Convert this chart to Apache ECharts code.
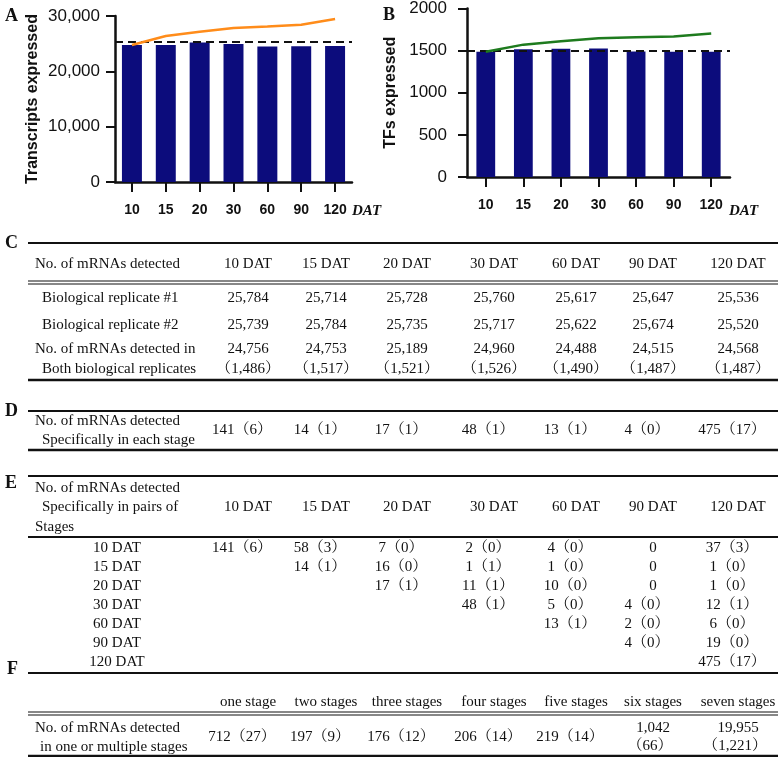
<!DOCTYPE html>
<html>
<head>
<meta charset="utf-8">
<script src="https://cdn.jsdelivr.net/npm/echarts@6/dist/echarts.min.js"></script>
<style>
html,body{margin:0;padding:0;background:#fff;}
#chart{width:778px;height:757px;}
</style>
</head>
<body>
<div id="chart"></div>
<script>
// ---------- DATA ----------
const stages = ['10', '15', '20', '30', '60', '90', '120'];
const transcriptsBoth = [24756, 24753, 25189, 24960, 24488, 24515, 24568];
const transcriptsCumulative = [24756, 26400, 27150, 27850, 28100, 28400, 29450];
const transcriptsRef = 25350;
const tfsBoth = [1486, 1517, 1521, 1526, 1490, 1487, 1487];
const tfsCumulative = [1486, 1571, 1610, 1648, 1660, 1668, 1703];
const tfsRef = 1500;
const yTicksA = [0, 10000, 20000, 30000];
const yTicksB = [0, 500, 1000, 1500, 2000];

const datHeaders = ['10 DAT', '15 DAT', '20 DAT', '30 DAT', '60 DAT', '90 DAT', '120 DAT'];
const replicate1 = ['25,784', '25,714', '25,728', '25,760', '25,617', '25,647', '25,536'];
const replicate2 = ['25,739', '25,784', '25,735', '25,717', '25,622', '25,674', '25,520'];
const stageSpecific = ['141（6）', '14（1）', '17（1）', '48（1）', '13（1）', '4（0）', '475（17）'];
const pairMatrix = [
  ['141（6）', '58（3）', '7（0）', '2（0）', '4（0）', '0', '37（3）'],
  ['', '14（1）', '16（0）', '1（1）', '1（0）', '0', '1（0）'],
  ['', '', '17（1）', '11（1）', '10（0）', '0', '1（0）'],
  ['', '', '', '48（1）', '5（0）', '4（0）', '12（1）'],
  ['', '', '', '', '13（1）', '2（0）', '6（0）'],
  ['', '', '', '', '', '4（0）', '19（0）'],
  ['', '', '', '', '', '', '475（17）']
];
const multiHeaders = ['one stage', 'two stages', 'three stages', 'four stages', 'five stages', 'six stages', 'seven stages'];
const multiValues = [['712（27）'], ['197（9）'], ['176（12）'], ['206（14）'], ['219（14）'], ['1,042', '（66）'], ['19,955', '（1,221）']];

// ---------- LAYOUT ----------
const colX = [248, 326, 407, 494, 576, 653, 738];
const serif = '"Liberation Serif", "Times New Roman", "Noto Serif CJK SC", "Noto Sans CJK SC", serif';
const tFont = '15px ' + serif;
const fmt = n => n.toLocaleString('en-US');

const g = [];
function txt(x, y, s, align, font) {
  g.push({ type: 'text', x: x, y: y, silent: true,
    style: { text: s, font: font || tFont, fill: '#111', align: align || 'left', verticalAlign: 'middle' } });
}
function hline(y, w) {
  g.push({ type: 'line', silent: true, shape: { x1: 28, y1: y, x2: 778, y2: y },
    style: { stroke: '#111', lineWidth: w || 2 } });
}
const letterFont = 'bold 18px ' + serif;
txt(5, 16, 'A', 'left', letterFont);
txt(383, 15, 'B', 'left', letterFont);
txt(5, 243, 'C', 'left', letterFont);
txt(5, 411, 'D', 'left', letterFont);
txt(5, 483, 'E', 'left', letterFont);
txt(7, 669, 'F', 'left', letterFont);

// DAT labels after x axes
const datFont = 'italic bold 15px ' + serif;
txt(352, 211, 'DAT', 'left', datFont);
txt(729, 211, 'DAT', 'left', datFont);

// Table C
hline(243, 2);
txt(35, 264, 'No. of mRNAs detected');
datHeaders.forEach((h, i) => txt(colX[i], 264, h, 'center'));
hline(281, 1.2); hline(284, 1.2);
txt(42, 298, 'Biological replicate #1');
replicate1.forEach((v, i) => txt(colX[i], 298, v, 'center'));
txt(42, 325, 'Biological replicate #2');
replicate2.forEach((v, i) => txt(colX[i], 325, v, 'center'));
txt(35, 349, 'No. of mRNAs detected in');
txt(42, 369, 'Both biological replicates');
transcriptsBoth.forEach((v, i) => txt(colX[i], 349, fmt(v), 'center'));
tfsBoth.forEach((v, i) => txt(colX[i], 369, '（' + fmt(v) + '）', 'center'));
hline(380, 2.5);

// Table D
hline(411, 2);
txt(35, 421, 'No. of mRNAs detected');
txt(42, 440, 'Specifically in each stage');
stageSpecific.forEach((v, i) => txt(colX[i] - 6, 430, v, 'center'));
hline(450, 2.5);

// Table E
hline(476, 2);
txt(35, 488, 'No. of mRNAs detected');
txt(42, 507, 'Specifically in pairs of');
txt(35, 527, 'Stages');
datHeaders.forEach((h, i) => txt(colX[i], 507, h, 'center'));
hline(537, 2);
pairMatrix.forEach((row, r) => {
  const y = 548 + r * 19;
  txt(117, y, datHeaders[r], 'center');
  row.forEach((v, c) => { if (v) txt(colX[c] - (v === '0' ? 0 : 6), y, v, 'center'); });
});

// Table F
hline(673, 2);
multiHeaders.forEach((h, i) => txt(colX[i], 702, h, 'center'));
hline(712, 1.2); hline(715, 1.2);
txt(35, 728, 'No. of mRNAs detected');
txt(40, 747, 'in one or multiple stages');
multiValues.forEach((v, i) => {
  if (v.length === 1) txt(colX[i] - 6, 737, v[0], 'center');
  else { txt(colX[i], 728, v[0], 'center'); txt(colX[i] - 3, 746, v[1], 'center'); }
});
hline(756, 2.5);

// ---------- CHARTS ----------
const navy = '#0c0c7c';
const axisCommon = {
  axisLine: { show: true, lineStyle: { color: '#111', width: 2.5 } },
  axisTick: { show: true, length: 9, lineStyle: { color: '#111', width: 2 } },
  splitLine: { show: false }
};
function xAx(idx) {
  return Object.assign({}, axisCommon, {
    type: 'category', gridIndex: idx, data: stages,
    axisTick: { show: true, alignWithLabel: true, length: 10, lineStyle: { color: '#111', width: 2 } },
    axisLabel: { color: '#111', fontFamily: 'Liberation Sans, Arial, sans-serif', fontWeight: 'bold', fontSize: 14, margin: 21 }
  });
}
function yAx(idx, ticks, name, gap, comma, margin) {
  return Object.assign({}, axisCommon, {
    type: 'value', gridIndex: idx, min: ticks[0], max: ticks[ticks.length - 1],
    interval: ticks[1] - ticks[0],
    name: name, nameLocation: 'middle', nameGap: gap,
    nameTextStyle: { color: '#111', fontFamily: 'Liberation Sans, Arial, sans-serif', fontWeight: 'bold', fontSize: 16 },
    axisLabel: { color: '#111', fontFamily: 'Liberation Sans, Arial, sans-serif', fontSize: 17, margin: margin,
      formatter: v => comma ? fmt(v) : String(v) }
  });
}
const dash = (v) => ({
  silent: true, symbol: ['none', 'none'], label: { show: false },
  lineStyle: { type: [8, 5], color: '#111', width: 2 },
  data: [{ yAxis: v }]
});

const option = {
  animation: false,
  backgroundColor: '#fff',
  grid: [
    { left: 115, top: 16, width: 237, height: 166 },
    { left: 467, top: 7, width: 263, height: 170 }
  ],
  xAxis: [xAx(0), xAx(1)],
  yAxis: [yAx(0, yTicksA, 'Transcripts expressed', 74, true, 15), yAx(1, yTicksB, 'TFs expressed', 68, false, 20)],
  series: [
    { type: 'bar', xAxisIndex: 0, yAxisIndex: 0, data: transcriptsBoth, barWidth: '59%',
      itemStyle: { color: navy }, markLine: dash(transcriptsRef) },
    { type: 'line', xAxisIndex: 0, yAxisIndex: 0, data: transcriptsCumulative, symbol: 'none',
      lineStyle: { color: '#ff8c1a', width: 2.5 }, z: 5 },
    { type: 'bar', xAxisIndex: 1, yAxisIndex: 1, data: tfsBoth, barWidth: '50%',
      itemStyle: { color: navy }, markLine: dash(tfsRef) },
    { type: 'line', xAxisIndex: 1, yAxisIndex: 1, data: tfsCumulative, symbol: 'none',
      lineStyle: { color: '#1e7b1e', width: 2.5 }, z: 5 }
  ],
  graphic: g
};
const chart = echarts.init(document.getElementById('chart'), null, { renderer: 'canvas' });
chart.setOption(option);
</script>
</body>
</html>
